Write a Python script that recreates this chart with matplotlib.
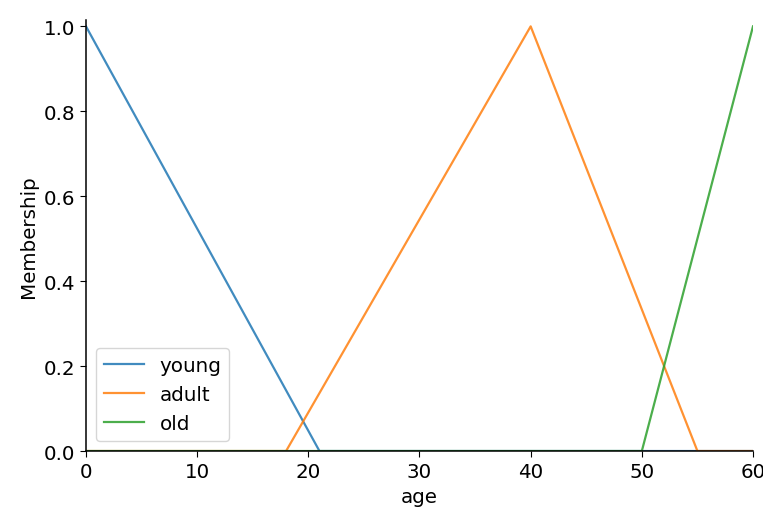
import matplotlib.pyplot as plt

# membership breakpoints
young_x = [0, 21, 60]
young_y = [1.0, 0.0, 0.0]
adult_x = [0, 18, 40, 55, 60]
adult_y = [0.0, 0.0, 1.0, 0.0, 0.0]
old_x = [0, 50, 60]
old_y = [0.0, 0.0, 1.0]

plt.rcParams['font.size'] = 14.3
plt.rcParams['xtick.major.size'] = 4.5
plt.rcParams['ytick.major.size'] = 4.5
plt.rcParams['axes.linewidth'] = 1.1

fig = plt.figure(figsize=(7.63, 5.10), dpi=100)
ax = fig.add_axes([0.1127, 0.1137, 0.8742, 0.8443])
ax.plot(young_x, young_y, 'C0', lw=1.6, alpha=0.85, label='young')
ax.plot(adult_x, adult_y, 'C1', lw=1.6, alpha=0.85, label='adult')
ax.plot(old_x, old_y, 'C2', lw=1.6, alpha=0.85, label='old')

ax.set_xlim(0, 60)
ax.set_ylim(0, 1.014)
ax.set_xlabel('age')
ax.set_ylabel('Membership')
ax.spines['top'].set_visible(False)
ax.spines['right'].set_visible(False)
ax.legend(loc='lower left')

fig.savefig('out.png', dpi=100)
